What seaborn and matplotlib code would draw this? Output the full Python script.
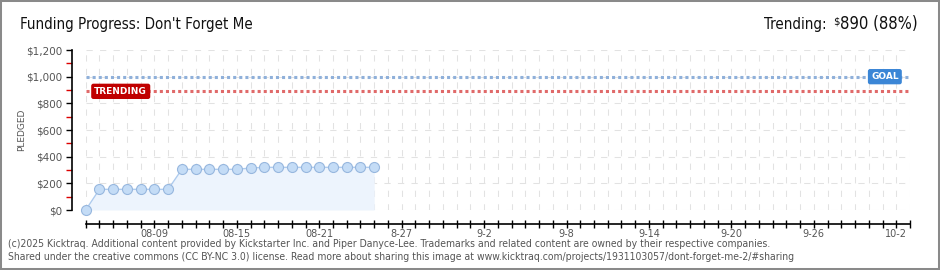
import matplotlib
matplotlib.use("Agg")
import matplotlib.pyplot as plt
from matplotlib import font_manager as fm
from matplotlib.ticker import FixedLocator, MultipleLocator, FuncFormatter
from matplotlib.patches import Rectangle
import seaborn as sns
import pandas as pd

# ---------------- data ----------------
dates = ["2025-08-04", "2025-08-05", "2025-08-06", "2025-08-07", "2025-08-08",
         "2025-08-09", "2025-08-10", "2025-08-11", "2025-08-12", "2025-08-13",
         "2025-08-14", "2025-08-15", "2025-08-16", "2025-08-17", "2025-08-18",
         "2025-08-19", "2025-08-20", "2025-08-21", "2025-08-22", "2025-08-23",
         "2025-08-24", "2025-08-25"]
pledged = [0, 155, 155, 155, 155, 155, 155, 305, 305, 305, 305, 305,
           315, 320, 320, 320, 320, 320, 320, 320, 320, 320]
goal = 1000
trending = 890
trending_pct = 88
campaign_end = "2025-10-03"
label_dates = ["2025-08-09", "2025-08-15", "2025-08-21", "2025-08-27", "2025-09-02",
               "2025-09-08", "2025-09-14", "2025-09-20", "2025-09-26", "2025-10-02"]
x_labels = ["08-09", "08-15", "08-21", "8-27", "9-2", "9-8", "9-14", "9-20", "9-26", "10-2"]
y_ticks = [0, 200, 400, 600, 800, 1000, 1200]
y_minor = [100, 300, 500, 700, 900, 1100]
title = "Funding Progress: Don't Forget Me"
footer1 = ("(c)2025 Kicktraq. Additional content provided by Kickstarter Inc. and Piper Danyce-Lee. "
           "Trademarks and related content are owned by their respective companies.")
footer2 = ("Shared under the creative commons (CC BY-NC 3.0) license. Read more about sharing this "
           "image at www.kicktraq.com/projects/1931103057/dont-forget-me-2/#sharing")

# ---------------- setup ----------------
sns.set_theme(style="white")
plt.rcParams["font.family"] = ["DejaVu Sans"]


def pick_narrow():
    entries = fm.fontManager.ttflist
    prefs = ["liberation sans narrow", "noto sans", "open sans", "dejavu sans", "roboto"]
    for pref in prefs:
        for f in entries:
            nm = f.name.lower()
            fn = f.fname.lower()
            narrow = ("narrow" in nm or "condensed" in nm or "narrow" in fn or "condensed" in fn
                      or str(f.stretch) in ("condensed", "semi-condensed"))
            if (nm.startswith(pref) and narrow and f.style == "normal"
                    and str(f.weight) in ("400", "normal", "regular", "book")
                    and "semicondensed" not in fn and "extracondensed" not in fn
                    and "bold" not in fn and "italic" not in fn and "light" not in fn
                    and "medium" not in fn and "black" not in fn and "thin" not in fn):
                return fm.FontProperties(fname=f.fname)
    return None


narrow_fp = pick_narrow()


def ntext(x, y, s, size, **kw):
    if narrow_fp is not None:
        fp = narrow_fp.copy()
        fp.set_size(size)
        return fig.text(x, y, s, fontproperties=fp, **kw)
    return fig.text(x, y, s, fontsize=size * 0.8, family="DejaVu Sans", **kw)


start = pd.Timestamp(dates[0])
df = pd.DataFrame({"day": (pd.to_datetime(dates) - start).days.astype(float),
                   "pledged": pledged})
label_pos = list((pd.to_datetime(label_dates) - start).days.astype(float))
end_day = float((pd.Timestamp(campaign_end) - start).days)

fig = plt.figure(figsize=(9.4, 2.7), dpi=100)
ax = fig.add_axes([85.7 / 940, 1 - 210 / 270, (910 - 85.7) / 940, 160 / 270])

# area + line
ax.fill_between(df["day"], 0, df["pledged"], color="#edf4fd", zorder=1, linewidth=0)
sns.lineplot(data=df, x="day", y="pledged", ax=ax, color="#aecbee", linewidth=1,
             marker="o", markersize=7.2, markerfacecolor="#c4dcf6",
             markeredgecolor="#97b7de", markeredgewidth=0.8, zorder=4, clip_on=False)

# goal and trending lines
ax.axhline(goal, color="#8fb0da", linewidth=2.2, linestyle=(0, (1, 1)), zorder=3)
ax.axhline(trending, color="#e06a6a", linewidth=2.2, linestyle=(0, (1, 1)), zorder=3)

ax.set_xlim(0, end_day)
ax.set_ylim(0, 1200)

# ticks and grid
ax.xaxis.set_minor_locator(MultipleLocator(1))
ax.xaxis.set_major_locator(FixedLocator(label_pos))
ax.set_xticklabels(x_labels)
ax.yaxis.set_major_locator(FixedLocator(y_ticks))
ax.yaxis.set_minor_locator(FixedLocator(y_minor))
ax.yaxis.set_major_formatter(FuncFormatter(lambda v, p: "$" + format(int(v), ",")))
ax.grid(which="both", axis="x", color="#e2e2e2", linewidth=0.75, linestyle=(0, (6, 7)), zorder=0)
ax.grid(which="major", axis="y", color="#e2e2e2", linewidth=0.75, linestyle=(0, (6, 7)), zorder=0)
ax.set_axisbelow(True)

for s in ["top", "right"]:
    ax.spines[s].set_visible(False)
ax.spines["left"].set_position(("outward", 10))
ax.spines["bottom"].set_position(("outward", 10))
ax.spines["left"].set_bounds(0, 1200)
ax.spines["bottom"].set_bounds(0, end_day)
for s in ["left", "bottom"]:
    ax.spines[s].set_color("black")
    ax.spines[s].set_linewidth(1.2)

ax.tick_params(axis="x", which="both", direction="inout", length=6, width=1,
               color="black", bottom=True, labelsize=7, labelcolor="#555555", pad=1)
ax.tick_params(axis="y", which="major", direction="out", length=4, width=1,
               color="black", left=True, labelsize=7.5, labelcolor="#555555", pad=3)
ax.tick_params(axis="y", which="minor", direction="out", length=4, width=1,
               color="#dd0000", left=True)
ax.set_xlabel("")
ax.set_ylabel("")

# labels on lines
ax.text(0.9695, goal, "GOAL", transform=ax.get_yaxis_transform(), ha="center", va="center",
        color="white", fontsize=6.5, fontweight="bold", zorder=6,
        bbox=dict(boxstyle="round,pad=0.35,rounding_size=0.25", fc="#3b86d6", ec="none"))
ax.text(0.0425, trending, "TRENDING", transform=ax.get_yaxis_transform(), ha="center", va="center",
        color="white", fontsize=6.5, fontweight="bold", zorder=6,
        bbox=dict(boxstyle="round,pad=0.35,rounding_size=0.25", fc="#c00000", ec="none"))

# y label
fig.text(22 / 940, 1 - 130 / 270, "PLEDGED", rotation=90, ha="center", va="center",
         fontsize=6.5, color="#555555")

# title and trending headline
ntext(20 / 940, 1 - 29 / 270, title, 10.8, ha="left", va="baseline", color="#111111")
t_val = ntext(918 / 940, 1 - 29 / 270, f"{trending} ({trending_pct}%)", 12, ha="right",
              va="baseline", color="#111111")
fig.canvas.draw()
inv = fig.transFigure.inverted()
bb = t_val.get_window_extent()
x0, _ = inv.transform((bb.x0, bb.y0))
t_dol = ntext(x0 - 0.5 / 940, 1 - 24 / 270, "$", 8, ha="right", va="baseline", color="#111111")
fig.canvas.draw()
bb2 = t_dol.get_window_extent()
x1, _ = inv.transform((bb2.x0, bb2.y0))
ntext(x1 - 7 / 940, 1 - 29 / 270, "Trending:", 10.8, ha="right", va="baseline", color="#111111")

# footer
ntext(8 / 940, 1 - 247 / 270, footer1, 7.5, ha="left", va="baseline", color="#555555")
ntext(8 / 940, 1 - 260 / 270, footer2, 7.5, ha="left", va="baseline", color="#555555")

# border
fig.patches.append(Rectangle((0, 0), 1, 1, transform=fig.transFigure, fill=False,
                             ec="#8a8a8a", lw=2.9, zorder=10))

fig.savefig("out.png", dpi=100)
